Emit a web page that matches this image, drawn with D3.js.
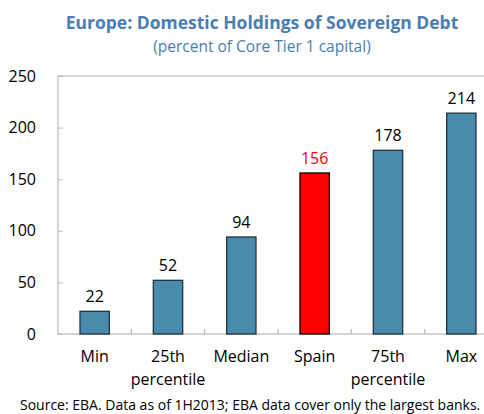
<!DOCTYPE html>
<html>
<head>
<meta charset="utf-8">
<script src="https://cdn.jsdelivr.net/npm/d3@7"></script>
<style>
  body { margin: 0; background: #fff; }
  text { font-family: "Open Sans", "Noto Sans", sans-serif; }
</style>
</head>
<body>
<svg id="chart"></svg>
<script>
var categories = ["Min", "25th\npercentile", "Median", "Spain", "75th\npercentile", "Max"];
var values = [22, 52, 94, 156, 178, 214];
var highlight = "Spain";
var yTicks = [0, 50, 100, 150, 200, 250];

var width = 484,
    height = 414;

var margin = {top: 76, left: 58, bottom: 80};
var plotW = 440, plotH = 258;

var svg = d3.select("#chart")
    .attr("width", width)
    .attr("height", height);

var x = d3.scaleBand()
    .domain(categories)
    .range([margin.left, margin.left + plotW])
    .paddingInner(0.6)
    .paddingOuter(0.3);

var y = d3.scaleLinear()
    .domain([0, 250])
    .range([margin.top + plotH, margin.top]);

// title
svg.append("text")
    .attr("x", 262).attr("y", 29)
    .attr("text-anchor", "middle")
    .style("font-size", "17.5px")
    .style("font-weight", "bold")
    .style("fill", "#4a7eb0")
    .text("Europe: Domestic Holdings of Sovereign Debt");

svg.append("text")
    .attr("x", 262).attr("y", 52)
    .attr("text-anchor", "middle")
    .style("font-size", "15.5px")
    .style("fill", "#4a7eb0")
    .text("(percent of Core Tier 1 capital)");

// plot frame
svg.append("rect")
    .attr("x", margin.left).attr("y", margin.top)
    .attr("width", plotW).attr("height", plotH)
    .style("fill", "none")
    .style("stroke", "#bfbfbf")
    .style("stroke-width", 1.3);

// y axis
var yAxis = d3.axisLeft(y).tickValues(yTicks).tickSize(-5).tickPadding(22);
var gy = svg.append("g")
    .attr("transform", "translate(" + margin.left + ",0)")
    .call(yAxis);
gy.select(".domain").remove();
gy.selectAll("line").style("stroke", "#bfbfbf");
gy.selectAll("text")
    .style("font-size", "16px")
    .style("fill", "#000")
    .style("font-family", "'Open Sans', sans-serif");

// x axis ticks between categories
var step = x.step();
var bounds = categories.slice(1).map(function(c) { return x(c) - (step - x.bandwidth()) / 2; });
svg.selectAll(".xtick")
    .data(bounds)
    .enter()
    .append("line")
    .attr("x1", function(d) { return d; })
    .attr("x2", function(d) { return d; })
    .attr("y1", y(0))
    .attr("y2", y(0) - 5)
    .style("stroke", "#bfbfbf")
    .style("stroke-width", 1.3);

// bars
svg.selectAll(".bar")
    .data(categories)
    .enter()
    .append("rect")
    .attr("x", function(d) { return x(d); })
    .attr("y", function(d, i) { return y(values[i]); })
    .attr("width", x.bandwidth())
    .attr("height", function(d, i) { return y(0) - y(values[i]); })
    .style("fill", function(d) { return d == highlight ? "#ff0000" : "#4a8aad"; })
    .style("stroke", function(d) { return d == highlight ? "#000" : "#1f3340"; })
    .style("stroke-width", 1.3);

// value labels
svg.selectAll(".val")
    .data(categories)
    .enter()
    .append("text")
    .attr("x", function(d) { return x(d) + x.bandwidth() / 2; })
    .attr("y", function(d, i) { return y(values[i]) - 9; })
    .attr("text-anchor", "middle")
    .style("font-size", "16px")
    .style("fill", function(d) { return d == highlight ? "#ff0000" : "#000"; })
    .text(function(d, i) { return values[i]; });

// category labels
svg.selectAll(".cat")
    .data(categories)
    .enter()
    .append("text")
    .attr("text-anchor", "middle")
    .style("font-size", "16px")
    .style("fill", "#000")
    .each(function(d) {
        var lines = d.split("\n");
        var t = d3.select(this);
        lines.forEach(function(l, k) {
            t.append("tspan")
                .attr("x", x(d) + x.bandwidth() / 2)
                .attr("y", 362 + k * 23)
                .text(l);
        });
    });

// source
svg.append("text")
    .attr("x", 20).attr("y", 410)
    .style("font-size", "14px")
    .style("fill", "#000")
    .text("Source: EBA. Data as of 1H2013; EBA data cover only the largest banks.");
</script>
</body>
</html>
